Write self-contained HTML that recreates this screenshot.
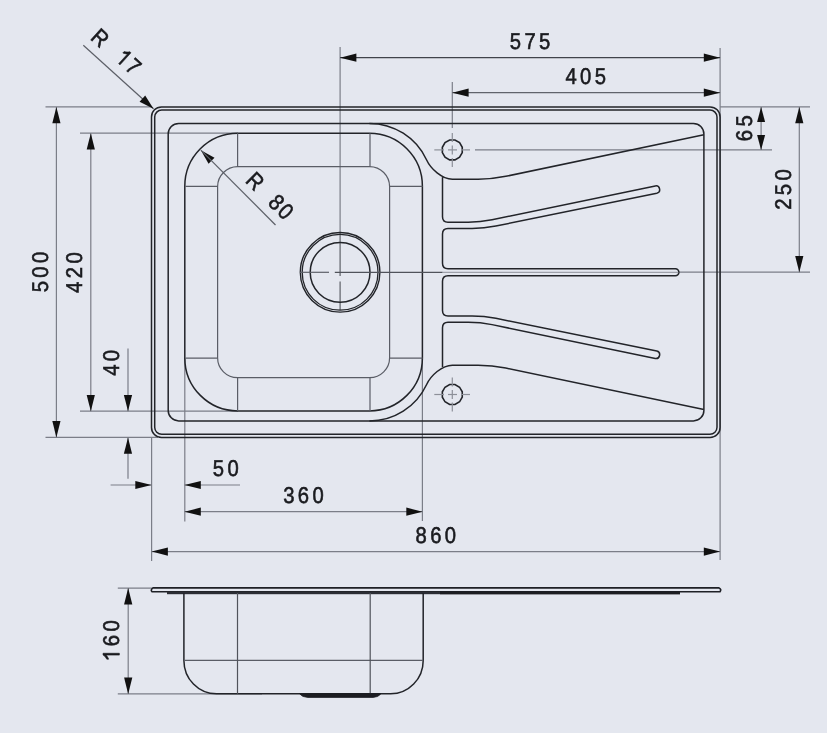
<!DOCTYPE html>
<html><head><meta charset="utf-8"><style>
html,body{margin:0;padding:0;background:#E4E7EF;}
svg{display:block;will-change:transform;}
text{font-family:"Liberation Sans",sans-serif;text-rendering:geometricPrecision;}
</style></head><body>
<svg width="827" height="733" viewBox="0 0 827 733">
<rect width="827" height="733" fill="#E4E7EF"/>
<line x1="340.1" y1="47" x2="340.1" y2="232.4" stroke="#7b7e88" stroke-width="1.2"/>
<line x1="340.1" y1="232.4" x2="340.1" y2="275.9" stroke="#5d6068" stroke-width="1.2"/>
<line x1="340.1" y1="281.4" x2="340.1" y2="310" stroke="#5d6068" stroke-width="1.2"/>
<line x1="720.1" y1="48" x2="720.1" y2="560" stroke="#7b7e88" stroke-width="1.2"/>
<line x1="340.1" y1="57.7" x2="720.1" y2="57.7" stroke="#40434b" stroke-width="1.2"/>
<path d="M340.10,57.70 L356.40,53.60 L356.40,61.80 Z" fill="#111"/>
<path d="M720.10,57.70 L703.80,61.80 L703.80,53.60 Z" fill="#111"/>
<g transform="translate(530.05 41.05) rotate(0)" font-size="22.8" text-anchor="middle" fill="#1a1b1f" stroke="#1a1b1f" stroke-width="0.6"><text x="-16.56" y="0" dy="0.34em" transform="scale(0.8877 1)">5</text><text x="0.00" y="0" dy="0.34em" transform="scale(0.8877 1)">7</text><text x="16.56" y="0" dy="0.34em" transform="scale(0.8877 1)">5</text></g>
<line x1="452.3" y1="82" x2="452.3" y2="128" stroke="#7b7e88" stroke-width="1.2"/>
<line x1="452.3" y1="92.7" x2="720.1" y2="92.7" stroke="#60636b" stroke-width="1.2"/>
<path d="M452.30,92.70 L468.60,88.60 L468.60,96.80 Z" fill="#111"/>
<path d="M720.10,92.70 L703.80,96.80 L703.80,88.60 Z" fill="#111"/>
<g transform="translate(585.7 76.5) rotate(0)" font-size="22.8" text-anchor="middle" fill="#1a1b1f" stroke="#1a1b1f" stroke-width="0.6"><text x="-16.56" y="0" dy="0.34em" transform="scale(0.8877 1)">4</text><text x="0.00" y="0" dy="0.34em" transform="scale(0.8877 1)">0</text><text x="16.56" y="0" dy="0.34em" transform="scale(0.8877 1)">5</text></g>
<line x1="720.1" y1="106.9" x2="810" y2="106.9" stroke="#7b7e88" stroke-width="1.2"/>
<line x1="475" y1="149.9" x2="772" y2="149.9" stroke="#7b7e88" stroke-width="1.2"/>
<line x1="679" y1="272.2" x2="810" y2="272.2" stroke="#7b7e88" stroke-width="1.2"/>
<line x1="761.1" y1="107" x2="761.1" y2="149.9" stroke="#7b7e88" stroke-width="1.2"/>
<path d="M761.10,106.90 L765.10,121.90 L757.10,121.90 Z" fill="#111"/>
<path d="M761.10,149.90 L757.10,134.90 L765.10,134.90 Z" fill="#111"/>
<g transform="translate(744.7 128.3) rotate(-90)" font-size="22.8" text-anchor="middle" fill="#1a1b1f" stroke="#1a1b1f" stroke-width="0.6"><text x="-8.28" y="0" dy="0.34em" transform="scale(0.8877 1)">6</text><text x="8.28" y="0" dy="0.34em" transform="scale(0.8877 1)">5</text></g>
<line x1="799.3" y1="107" x2="799.3" y2="272.2" stroke="#7b7e88" stroke-width="1.2"/>
<path d="M799.30,106.90 L803.40,123.20 L795.20,123.20 Z" fill="#111"/>
<path d="M799.30,272.20 L795.20,255.90 L803.40,255.90 Z" fill="#111"/>
<g transform="translate(783 189.5) rotate(-90)" font-size="22.8" text-anchor="middle" fill="#1a1b1f" stroke="#1a1b1f" stroke-width="0.6"><text x="-16.56" y="0" dy="0.34em" transform="scale(0.8877 1)">2</text><text x="0.00" y="0" dy="0.34em" transform="scale(0.8877 1)">5</text><text x="16.56" y="0" dy="0.34em" transform="scale(0.8877 1)">0</text></g>
<line x1="45.5" y1="106.9" x2="151.6" y2="106.9" stroke="#7b7e88" stroke-width="1.2"/>
<line x1="80" y1="133.2" x2="238" y2="133.2" stroke="#7b7e88" stroke-width="1.2"/>
<line x1="80" y1="411.2" x2="238" y2="411.2" stroke="#7b7e88" stroke-width="1.2"/>
<line x1="45.5" y1="437.4" x2="158" y2="437.4" stroke="#7b7e88" stroke-width="1.2"/>
<line x1="56.4" y1="107" x2="56.4" y2="437.4" stroke="#7b7e88" stroke-width="1.2"/>
<path d="M56.40,106.90 L60.50,123.20 L52.30,123.20 Z" fill="#111"/>
<path d="M56.40,437.40 L52.30,421.10 L60.50,421.10 Z" fill="#111"/>
<g transform="translate(40.05 272) rotate(-90)" font-size="22.8" text-anchor="middle" fill="#1a1b1f" stroke="#1a1b1f" stroke-width="0.6"><text x="-16.56" y="0" dy="0.34em" transform="scale(0.8877 1)">5</text><text x="0.00" y="0" dy="0.34em" transform="scale(0.8877 1)">0</text><text x="16.56" y="0" dy="0.34em" transform="scale(0.8877 1)">0</text></g>
<line x1="90.8" y1="133.2" x2="90.8" y2="411.2" stroke="#7b7e88" stroke-width="1.2"/>
<path d="M90.80,133.20 L94.90,149.50 L86.70,149.50 Z" fill="#111"/>
<path d="M90.80,411.20 L86.70,394.90 L94.90,394.90 Z" fill="#111"/>
<g transform="translate(73.9 272.6) rotate(-90)" font-size="22.8" text-anchor="middle" fill="#1a1b1f" stroke="#1a1b1f" stroke-width="0.6"><text x="-16.56" y="0" dy="0.34em" transform="scale(0.8877 1)">4</text><text x="0.00" y="0" dy="0.34em" transform="scale(0.8877 1)">2</text><text x="16.56" y="0" dy="0.34em" transform="scale(0.8877 1)">0</text></g>
<line x1="128" y1="348.6" x2="128" y2="411.2" stroke="#7b7e88" stroke-width="1.2"/>
<path d="M128.00,411.20 L123.90,394.90 L132.10,394.90 Z" fill="#111"/>
<line x1="128" y1="437.4" x2="128" y2="478.8" stroke="#7b7e88" stroke-width="1.2"/>
<path d="M128.00,437.40 L132.10,453.70 L123.90,453.70 Z" fill="#111"/>
<g transform="translate(111.6 362.9) rotate(-90)" font-size="22.8" text-anchor="middle" fill="#1a1b1f" stroke="#1a1b1f" stroke-width="0.6"><text x="-8.28" y="0" dy="0.34em" transform="scale(0.8877 1)">4</text><text x="8.28" y="0" dy="0.34em" transform="scale(0.8877 1)">0</text></g>
<line x1="151.6" y1="437.4" x2="151.6" y2="561" stroke="#7b7e88" stroke-width="1.2"/>
<line x1="184.8" y1="358" x2="184.8" y2="521.4" stroke="#7b7e88" stroke-width="1.2"/>
<line x1="422.4" y1="358" x2="422.4" y2="521" stroke="#7b7e88" stroke-width="1.2"/>
<line x1="110.6" y1="485" x2="151.6" y2="485" stroke="#7b7e88" stroke-width="1.2"/>
<path d="M151.60,485.00 L135.30,489.10 L135.30,480.90 Z" fill="#111"/>
<line x1="184.5" y1="485" x2="240" y2="485" stroke="#7b7e88" stroke-width="1.2"/>
<path d="M184.50,485.00 L200.80,480.90 L200.80,489.10 Z" fill="#111"/>
<g transform="translate(225.7 468.3) rotate(0)" font-size="22.8" text-anchor="middle" fill="#1a1b1f" stroke="#1a1b1f" stroke-width="0.6"><text x="-8.28" y="0" dy="0.34em" transform="scale(0.8877 1)">5</text><text x="8.28" y="0" dy="0.34em" transform="scale(0.8877 1)">0</text></g>
<line x1="184.5" y1="511.7" x2="422.6" y2="511.7" stroke="#7b7e88" stroke-width="1.2"/>
<path d="M184.50,511.70 L200.80,507.60 L200.80,515.80 Z" fill="#111"/>
<path d="M422.60,511.70 L406.30,515.80 L406.30,507.60 Z" fill="#111"/>
<g transform="translate(303.5 495.1) rotate(0)" font-size="22.8" text-anchor="middle" fill="#1a1b1f" stroke="#1a1b1f" stroke-width="0.6"><text x="-16.56" y="0" dy="0.34em" transform="scale(0.8877 1)">3</text><text x="0.00" y="0" dy="0.34em" transform="scale(0.8877 1)">6</text><text x="16.56" y="0" dy="0.34em" transform="scale(0.8877 1)">0</text></g>
<line x1="151.6" y1="551.6" x2="720.1" y2="551.6" stroke="#7b7e88" stroke-width="1.2"/>
<path d="M151.60,551.60 L167.90,547.50 L167.90,555.70 Z" fill="#111"/>
<path d="M720.10,551.60 L703.80,555.70 L703.80,547.50 Z" fill="#111"/>
<g transform="translate(435.8 535.2) rotate(0)" font-size="22.8" text-anchor="middle" fill="#1a1b1f" stroke="#1a1b1f" stroke-width="0.6"><text x="-16.56" y="0" dy="0.34em" transform="scale(0.8877 1)">8</text><text x="0.00" y="0" dy="0.34em" transform="scale(0.8877 1)">6</text><text x="16.56" y="0" dy="0.34em" transform="scale(0.8877 1)">0</text></g>
<line x1="83.3" y1="45.2" x2="153.5" y2="108.8" stroke="#5d6068" stroke-width="1.2"/>
<path d="M153.50,108.80 L139.56,101.84 L145.20,95.62 Z" fill="#111"/>
<g transform="translate(100.1 37.9) rotate(42.2)" font-size="22.8" text-anchor="middle" fill="#1a1b1f" stroke="#1a1b1f" stroke-width="0.6"><text x="0.00" y="0" dy="0.34em" transform="scale(0.8877 1)">R</text></g>
<g transform="translate(128.6 62.2) rotate(42.2)" font-size="22.8" text-anchor="middle" fill="#1a1b1f" stroke="#1a1b1f" stroke-width="0.6"><path d="M0.373,0 L0.284,0 L0.284,-0.575 C0.250,-0.545 0.170,-0.500 0.081,-0.470 L0.081,-0.550 C0.170,-0.590 0.240,-0.640 0.290,-0.716 L0.373,-0.716 Z" vector-effect="non-scaling-stroke" transform="translate(-12.13 7.75) scale(20.240 22.8)"/><text x="7.32" y="0" dy="0.34em" transform="scale(0.8877 1)">7</text></g>
<path d="M200.90,150.20 L214.48,157.84 L208.54,163.78 Z" fill="#111"/>
<line x1="200.9" y1="150.2" x2="275.5" y2="225" stroke="#5d6068" stroke-width="1.2"/>
<g transform="translate(255.1 181.3) rotate(45)" font-size="22.8" text-anchor="middle" fill="#1a1b1f" stroke="#1a1b1f" stroke-width="0.6"><text x="0.00" y="0" dy="0.34em" transform="scale(0.8877 1)">R</text></g>
<g transform="translate(281.1 206.8) rotate(45)" font-size="22.8" text-anchor="middle" fill="#1a1b1f" stroke="#1a1b1f" stroke-width="0.6"><text x="-7.43" y="0" dy="0.34em" transform="scale(0.8877 1)">8</text><text x="7.43" y="0" dy="0.34em" transform="scale(0.8877 1)">0</text></g>
<line x1="117.8" y1="588.1" x2="152" y2="588.1" stroke="#7b7e88" stroke-width="1.2"/>
<line x1="117.8" y1="693.9" x2="262" y2="693.9" stroke="#7b7e88" stroke-width="1.2"/>
<line x1="128.2" y1="588.1" x2="128.2" y2="693.9" stroke="#7b7e88" stroke-width="1.2"/>
<path d="M128.20,588.10 L132.30,604.40 L124.10,604.40 Z" fill="#111"/>
<path d="M128.20,693.90 L124.10,677.60 L132.30,677.60 Z" fill="#111"/>
<g transform="translate(111.6 640.5) rotate(-90)" font-size="22.8" text-anchor="middle" fill="#1a1b1f" stroke="#1a1b1f" stroke-width="0.6"><path d="M0.373,0 L0.284,0 L0.284,-0.575 C0.250,-0.545 0.170,-0.500 0.081,-0.470 L0.081,-0.550 C0.170,-0.590 0.240,-0.640 0.290,-0.716 L0.373,-0.716 Z" vector-effect="non-scaling-stroke" transform="translate(-20.33 7.75) scale(20.240 22.8)"/><text x="0.00" y="0" dy="0.34em" transform="scale(0.8877 1)">6</text><text x="16.56" y="0" dy="0.34em" transform="scale(0.8877 1)">0</text></g>
<rect x="151.5" y="106.9" width="568.60" height="330.50" rx="10" fill="none" stroke="#222429" stroke-width="1.5"/>
<rect x="154.7" y="110.1" width="562.30" height="324.20" rx="7" fill="none" stroke="#222429" stroke-width="1.5"/>
<rect x="168.2" y="123.4" width="535.70" height="297.50" rx="10.5" fill="none" stroke="#222429" stroke-width="1.5"/>
<rect x="184.8" y="133.3" width="237.60" height="277.60" rx="53" fill="none" stroke="#222429" stroke-width="1.5"/>
<rect x="217.6" y="166.6" width="172.00" height="211.10" rx="20" fill="none" stroke="#5a5d66" stroke-width="1.2"/>
<line x1="237.6" y1="133.3" x2="237.6" y2="166.6" stroke="#5a5d66" stroke-width="1.2"/>
<line x1="237.6" y1="377.8" x2="237.6" y2="411.1" stroke="#5a5d66" stroke-width="1.2"/>
<line x1="370.0" y1="133.3" x2="370.0" y2="166.6" stroke="#5a5d66" stroke-width="1.2"/>
<line x1="370.0" y1="377.8" x2="370.0" y2="411.1" stroke="#5a5d66" stroke-width="1.2"/>
<line x1="185.3" y1="186.3" x2="217.5" y2="186.3" stroke="#5a5d66" stroke-width="1.2"/>
<line x1="389.6" y1="186.3" x2="422.6" y2="186.3" stroke="#5a5d66" stroke-width="1.2"/>
<line x1="185.3" y1="358.1" x2="217.5" y2="358.1" stroke="#5a5d66" stroke-width="1.2"/>
<line x1="389.6" y1="358.1" x2="422.6" y2="358.1" stroke="#5a5d66" stroke-width="1.2"/>
<circle cx="340.1" cy="272.3" r="39.8" fill="none" stroke="#222429" stroke-width="1.4"/>
<circle cx="340.1" cy="272.3" r="37.9" fill="none" stroke="#222429" stroke-width="1.3"/>
<circle cx="340.1" cy="272.3" r="29.9" fill="none" stroke="#222429" stroke-width="1.5"/>
<line x1="300" y1="272.3" x2="329" y2="272.3" stroke="#5d6068" stroke-width="1.2"/>
<line x1="334.8" y1="272.3" x2="442.6" y2="272.3" stroke="#50535b" stroke-width="1.2"/>
<line x1="442.6" y1="272.3" x2="678" y2="272.3" stroke="#8d9099" stroke-width="1"/>
<polygon points="462.25,152.57 459.58,157.18 454.97,159.85 449.63,159.85 445.02,157.18 442.35,152.57 442.35,147.23 445.02,142.62 449.63,139.95 454.97,139.95 459.58,142.62 462.25,147.23" fill="none" stroke="#222429" stroke-width="1.6"/>
<line x1="434.3" y1="149.9" x2="444" y2="149.9" stroke="#8d9099" stroke-width="1.2"/>
<line x1="448" y1="149.9" x2="457" y2="149.9" stroke="#8d9099" stroke-width="1.2"/>
<line x1="461" y1="149.9" x2="470" y2="149.9" stroke="#8d9099" stroke-width="1.2"/>
<line x1="452.3" y1="132.9" x2="452.3" y2="141.9" stroke="#8d9099" stroke-width="1.2"/>
<line x1="452.3" y1="145.4" x2="452.3" y2="154.4" stroke="#8d9099" stroke-width="1.2"/>
<line x1="452.3" y1="157.9" x2="452.3" y2="166.9" stroke="#8d9099" stroke-width="1.2"/>
<polygon points="462.25,397.17 459.58,401.78 454.97,404.45 449.63,404.45 445.02,401.78 442.35,397.17 442.35,391.83 445.02,387.22 449.63,384.55 454.97,384.55 459.58,387.22 462.25,391.83" fill="none" stroke="#222429" stroke-width="1.6"/>
<line x1="434.3" y1="394.5" x2="444" y2="394.5" stroke="#8d9099" stroke-width="1.2"/>
<line x1="448" y1="394.5" x2="457" y2="394.5" stroke="#8d9099" stroke-width="1.2"/>
<line x1="461" y1="394.5" x2="470" y2="394.5" stroke="#8d9099" stroke-width="1.2"/>
<line x1="452.3" y1="377.5" x2="452.3" y2="386.5" stroke="#8d9099" stroke-width="1.2"/>
<line x1="452.3" y1="390.0" x2="452.3" y2="399.0" stroke="#8d9099" stroke-width="1.2"/>
<line x1="452.3" y1="402.5" x2="452.3" y2="411.5" stroke="#8d9099" stroke-width="1.2"/>
<path d="M369.4,123.4 A63,63 0 0 1 426.5,159.7 C430.7,168.8 442,179.2 452.4,179.2 L478.1,179.2 Q492.1,179.2 505.8,176.33 L703.9,134.8 M442.5,177.3 L442.5,216.7 Q442.5,222.2 448,222.2 L468.3,222.2 Q480.3,222.2 492.05,219.76 L655.3,185.9 A3.78,3.78 0 0 1 656.8,193.3 L495.85,226.06 Q484.1,228.5 472.1,228.5 L448,228.5 Q442.5,228.5 442.5,234 L442.5,263.2 Q442.5,268.7 448,268.7 L675.4,268.7 A3.5,3.5 0 0 1 678.9,272.2" fill="none" stroke="#222429" stroke-width="1.5"/>
<path d="M369.4,123.4 A63,63 0 0 1 426.5,159.7 C430.7,168.8 442,179.2 452.4,179.2 L478.1,179.2 Q492.1,179.2 505.8,176.33 L703.9,134.8 M442.5,177.3 L442.5,216.7 Q442.5,222.2 448,222.2 L468.3,222.2 Q480.3,222.2 492.05,219.76 L655.3,185.9 A3.78,3.78 0 0 1 656.8,193.3 L495.85,226.06 Q484.1,228.5 472.1,228.5 L448,228.5 Q442.5,228.5 442.5,234 L442.5,263.2 Q442.5,268.7 448,268.7 L675.4,268.7 A3.5,3.5 0 0 1 678.9,272.2" fill="none" stroke="#222429" stroke-width="1.5" transform="translate(0 544.4) scale(1 -1)"/>
<path d="M153,587.9 L719,587.9 Q721.8,589.2 720,591.7 L152,591.7 Q150.2,590 153,587.9 Z" fill="none" stroke="#1e2026" stroke-width="1.6"/>
<rect x="167" y="591.6" width="273" height="2.6" fill="#2b2d34"/>
<rect x="440" y="591.4" width="240" height="3" fill="#1c1d22"/>
<path d="M183.9,593 L183.9,660.4 A32.6,33.4 0 0 0 216.5,693.8 L390.6,693.8 A32.6,33.4 0 0 0 423.2,660.4 L423.2,593" fill="none" stroke="#222429" stroke-width="1.5"/>
<line x1="183.9" y1="660.4" x2="423.2" y2="660.4" stroke="#5a5d66" stroke-width="1.2"/>
<line x1="237.5" y1="593" x2="237.5" y2="693.8" stroke="#50535b" stroke-width="1.2"/>
<line x1="370.2" y1="593" x2="370.2" y2="693.8" stroke="#50535b" stroke-width="1.2"/>
<path d="M299.5,693.6 Q302,697.4 308,697.4 L373,697.4 Q378.5,697.4 381,693.6 Z" fill="#1c1d22" stroke="#1c1d22" stroke-width="0.8"/>
</svg></body></html>
